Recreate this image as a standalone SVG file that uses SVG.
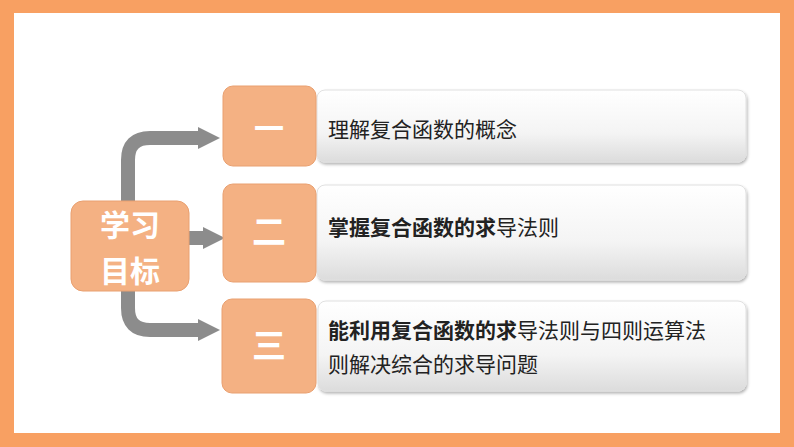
<svg xmlns="http://www.w3.org/2000/svg" width="794" height="447" viewBox="0 0 794 447">
<defs>
<linearGradient id="g" x1="0" y1="0" x2="0" y2="1"><stop offset="0" stop-color="#ffffff"/><stop offset="0.6" stop-color="#f4f4f4"/><stop offset="1" stop-color="#dcdcdc"/></linearGradient>
<filter id="sh" x="-10%" y="-10%" width="130%" height="130%"><feDropShadow dx="1" dy="2" stdDeviation="1.5" flood-color="#000" flood-opacity="0.3"/></filter>
<marker id="ah" viewBox="0 0 10 10" refX="1" refY="5" markerWidth="1.6" markerHeight="2.6" markerUnits="strokeWidth" orient="auto"><path d="M0,0 L10,5 L0,10 Z" fill="#8c8c8c"/></marker>
</defs>
<style>
.num{fill:#f4b183;stroke:#e9a070;stroke-width:1}
.box{fill:url(#g);stroke:#e0e0e0;stroke-width:1;filter:url(#sh)}
.t{font-family:"Noto Sans CJK SC",sans-serif;font-size:21px;fill:#222}
.b{font-weight:bold}
.w{font-family:"Noto Sans CJK SC",sans-serif;font-weight:bold;fill:#fff;text-anchor:middle}
.c{fill:none;stroke:#8c8c8c;stroke-width:14}
</style>
<rect x="0" y="0" width="794" height="447" fill="#f8a062"/>
<rect x="14" y="13" width="766" height="420" fill="#ffffff"/>
<g id="connectors">
<path class="c" d="M128,210 V160 Q128,138 150,138 H200" marker-end="url(#ah)"/>
<path class="c" d="M189,238 H205" marker-end="url(#ah)"/>
<path class="c" d="M128,290 V308 Q128,330 150,330 H200" marker-end="url(#ah)"/>
</g>
<g id="goal"><rect x="71" y="201" width="118" height="90" rx="12" class="num"/><text class="w" x="130" y="236" font-size="30">学习</text><text class="w" x="130" y="282" font-size="30">目标</text></g>
<g id="n1"><rect x="317" y="90" width="429" height="72" rx="8" class="box"/><rect x="223" y="86" width="93" height="80" rx="10" class="num"/><text class="w" x="269" y="139" font-size="30">一</text><text class="t" x="328" y="137">理解复合函数的概念</text></g>
<g id="n2"><rect x="317" y="185" width="429" height="95" rx="8" class="box"/><rect x="223" y="184" width="93" height="98" rx="10" class="num"/><text class="w" x="269" y="244" font-size="34">二</text><text class="t" x="328" y="235"><tspan class="b">掌握复合函数的求</tspan>导法则</text></g>
<g id="n3"><rect x="318" y="301" width="428" height="90" rx="8" class="box"/><rect x="222" y="299" width="94" height="94" rx="10" class="num"/><text class="w" x="269" y="358" font-size="34">三</text><text class="t" x="328" y="338"><tspan class="b">能利用复合函数的求</tspan>导法则与四则运算法</text><text class="t" x="328" y="372">则解决综合的求导问题</text></g>
</svg>
